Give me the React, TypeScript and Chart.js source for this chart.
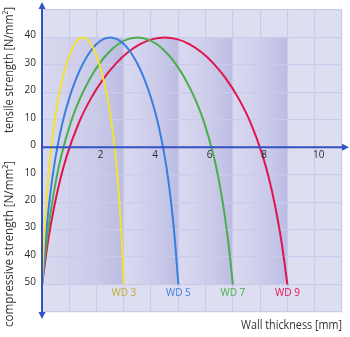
import React, { useEffect, useRef } from "react";
import { Chart, registerables } from "chart.js";

Chart.register(...registerables);

// Wall thickness [mm] / strength [N/mm²] (tensile positive, compressive negative)
const wd3X = [0, 0.075, 0.15, 0.225, 0.3, 0.45, 0.6, 0.75, 0.9, 1.05, 1.2, 1.35, 1.5, 1.65, 1.8, 1.95, 2.1, 2.25, 2.4, 2.55, 2.7, 2.775, 2.85, 2.925, 3];
const wd3Y = [-50, -34, -21.5, -11.5, -3.4, 8.9, 17.9, 24.9, 30.4, 34.6, 37.6, 39.4, 40, 39.4, 37.6, 34.6, 30.4, 24.9, 17.9, 8.9, -3.4, -11.5, -21.5, -34, -50];
const wd5X = [0, 0.125, 0.25, 0.375, 0.5, 0.75, 1.0, 1.25, 1.5, 1.75, 2.0, 2.25, 2.5, 2.75, 3.0, 3.25, 3.5, 3.75, 4.0, 4.25, 4.5, 4.625, 4.75, 4.875, 5];
const wd5Y = [-50, -34, -21.5, -11.5, -3.4, 8.9, 17.9, 24.9, 30.4, 34.6, 37.6, 39.4, 40, 39.4, 37.6, 34.6, 30.4, 24.9, 17.9, 8.9, -3.4, -11.5, -21.5, -34, -50];
const wd7X = [0, 0.175, 0.35, 0.525, 0.7, 1.05, 1.4, 1.75, 2.1, 2.45, 2.8, 3.15, 3.5, 3.85, 4.2, 4.55, 4.9, 5.25, 5.6, 5.95, 6.3, 6.475, 6.65, 6.825, 7];
const wd7Y = [-50, -34, -21.5, -11.5, -3.4, 8.9, 17.9, 24.9, 30.4, 34.6, 37.6, 39.4, 40, 39.4, 37.6, 34.6, 30.4, 24.9, 17.9, 8.9, -3.4, -11.5, -21.5, -34, -50];
const wd9X = [0, 0.225, 0.45, 0.675, 0.9, 1.35, 1.8, 2.25, 2.7, 3.15, 3.6, 4.05, 4.5, 4.95, 5.4, 5.85, 6.3, 6.75, 7.2, 7.65, 8.1, 8.325, 8.55, 8.775, 9];
const wd9Y = [-50, -34, -21.5, -11.5, -3.4, 8.9, 17.9, 24.9, 30.4, 34.6, 37.6, 39.4, 40, 39.4, 37.6, 34.6, 30.4, 24.9, 17.9, 8.9, -3.4, -11.5, -21.5, -34, -50];

const seriesNames = ["WD 3", "WD 5", "WD 7", "WD 9"];
const seriesEnds = [3, 5, 7, 9];
const bandStarts = [0, 3, 5, 7];
const xTickValues = [2, 4, 6, 8, 10];
const yTickValues = [40, 30, 20, 10, 0, -10, -20, -30, -40, -50];

const lineColors = ["#f2e234", "#3a7fe0", "#4aae4a", "#e0144e"];
const textColors = ["#bdb02a", "#3a7fe0", "#4aae4a", "#e0144e"];
const AXIS = "#3352c4";
const BG = "#dedef2";
const GRID = "#cacaea";
const FONT = "'Open Sans', 'Noto Sans', sans-serif";

function zip(xs: number[], ys: number[]) {
  return xs.map((x, i) => ({ x, y: ys[i] }));
}

const decoPlugin = {
  id: "deco",
  beforeDraw(chart: any) {
    const { ctx, chartArea: a, scales } = chart;
    const xs = scales.x;
    const ys = scales.y;
    ctx.save();
    ctx.fillStyle = BG;
    ctx.fillRect(a.left, a.top, a.right - a.left, a.bottom - a.top);
    const top = ys.getPixelForValue(40);
    const bot = ys.getPixelForValue(-50);
    bandStarts.forEach((s, i) => {
      const x0 = xs.getPixelForValue(s);
      const x1 = xs.getPixelForValue(seriesEnds[i]);
      const g = ctx.createLinearGradient(x0, 0, x1, 0);
      g.addColorStop(0, "rgba(200,200,232,0.25)");
      g.addColorStop(0.5, "rgba(190,190,228,0.5)");
      g.addColorStop(1, "rgba(182,182,225,0.85)");
      ctx.fillStyle = g;
      ctx.fillRect(x0, top, x1 - x0, bot - top);
    });
    ctx.restore();
  },
  afterDraw(chart: any) {
    const { ctx, chartArea: a, scales } = chart;
    const xs = scales.x;
    const ys = scales.y;
    const x0 = xs.getPixelForValue(0);
    const y0 = ys.getPixelForValue(0);
    ctx.save();
    // axes
    ctx.strokeStyle = AXIS;
    ctx.fillStyle = AXIS;
    ctx.lineWidth = 2;
    ctx.beginPath();
    ctx.moveTo(x0, a.top - 3);
    ctx.lineTo(x0, a.bottom + 2);
    ctx.moveTo(x0, y0);
    ctx.lineTo(a.right + 2, y0);
    ctx.stroke();
    // arrows
    ctx.beginPath();
    ctx.moveTo(x0, a.top - 8);
    ctx.lineTo(x0 - 3.5, a.top - 1);
    ctx.lineTo(x0 + 3.5, a.top - 1);
    ctx.closePath();
    ctx.fill();
    ctx.beginPath();
    ctx.moveTo(x0, a.bottom + 7);
    ctx.lineTo(x0 - 3.5, a.bottom);
    ctx.lineTo(x0 + 3.5, a.bottom);
    ctx.closePath();
    ctx.fill();
    ctx.beginPath();
    ctx.moveTo(a.right + 7, y0);
    ctx.lineTo(a.right, y0 - 3.5);
    ctx.lineTo(a.right, y0 + 3.5);
    ctx.closePath();
    ctx.fill();

    // tick labels
    ctx.fillStyle = "#2a2a2a";
    ctx.font = `10px ${FONT}`;
    ctx.textAlign = "right";
    ctx.textBaseline = "middle";
    yTickValues.forEach((v) => {
      ctx.fillText(String(Math.abs(v)), x0 - 6, ys.getPixelForValue(v) - 2);
    });
    ctx.textAlign = "center";
    xTickValues.forEach((v) => {
      ctx.fillText(String(v), xs.getPixelForValue(v) + 4, y0 + 8);
    });

    // series labels
    ctx.font = `10px ${FONT}`;
    seriesNames.forEach((n, i) => {
      ctx.fillStyle = textColors[i];
      ctx.fillText(n, xs.getPixelForValue(seriesEnds[i]), ys.getPixelForValue(-50) + 9);
    });

    // titles
    ctx.fillStyle = "#333";
    ctx.font = `12px ${FONT}`;
    ctx.textAlign = "center";
    ctx.save();
    ctx.translate(10, 70);
    ctx.rotate(-Math.PI / 2);
    ctx.fillText("tensile strength [N/mm²]", 0, 0, 126);
    ctx.restore();
    ctx.save();
    ctx.translate(10, 244);
    ctx.rotate(-Math.PI / 2);
    ctx.fillText("compressive strength [N/mm²]", 0, 0, 166);
    ctx.restore();
    ctx.textAlign = "right";
    ctx.fillText("Wall thickness [mm]", a.right, a.bottom + 14, 101);
    ctx.restore();
  },
};

export default function App() {
  const ref = useRef<HTMLCanvasElement | null>(null);
  useEffect(() => {
    if (!ref.current) return;
    const xsAll = [wd3X, wd5X, wd7X, wd9X];
    const ysAll = [wd3Y, wd5Y, wd7Y, wd9Y];
    const chart = new Chart(ref.current, {
      type: "line",
      data: {
        datasets: seriesNames.map((n, i) => ({
          label: n,
          data: zip(xsAll[i], ysAll[i]),
          borderColor: lineColors[i],
          borderWidth: 2,
          pointRadius: 0,
          cubicInterpolationMode: "monotone" as const,
          fill: false,
        })),
      },
      options: {
        animation: false,
        responsive: true,
        maintainAspectRatio: false,
        layout: { padding: { left: 42, right: 8, top: 10, bottom: 25 } },
        plugins: { legend: { display: false }, tooltip: { enabled: false } },
        scales: {
          x: {
            type: "linear",
            min: 0,
            max: 11,
            ticks: { display: false, stepSize: 1 },
            grid: { color: GRID, lineWidth: 1.2, drawTicks: false, tickLength: 0 },
            border: { display: false },
          },
          y: {
            type: "linear",
            min: -60,
            max: 50,
            ticks: { display: false, stepSize: 10 },
            grid: { color: GRID, lineWidth: 1.2, drawTicks: false, tickLength: 0 },
            border: { display: false },
          },
        },
      },
      plugins: [decoPlugin],
    });
    return () => chart.destroy();
  }, []);
  return (
    <div style={{ position: "absolute", left: 0, top: 0, width: 350, height: 337, background: "#fff" }}>
      <canvas ref={ref} />
    </div>
  );
}
